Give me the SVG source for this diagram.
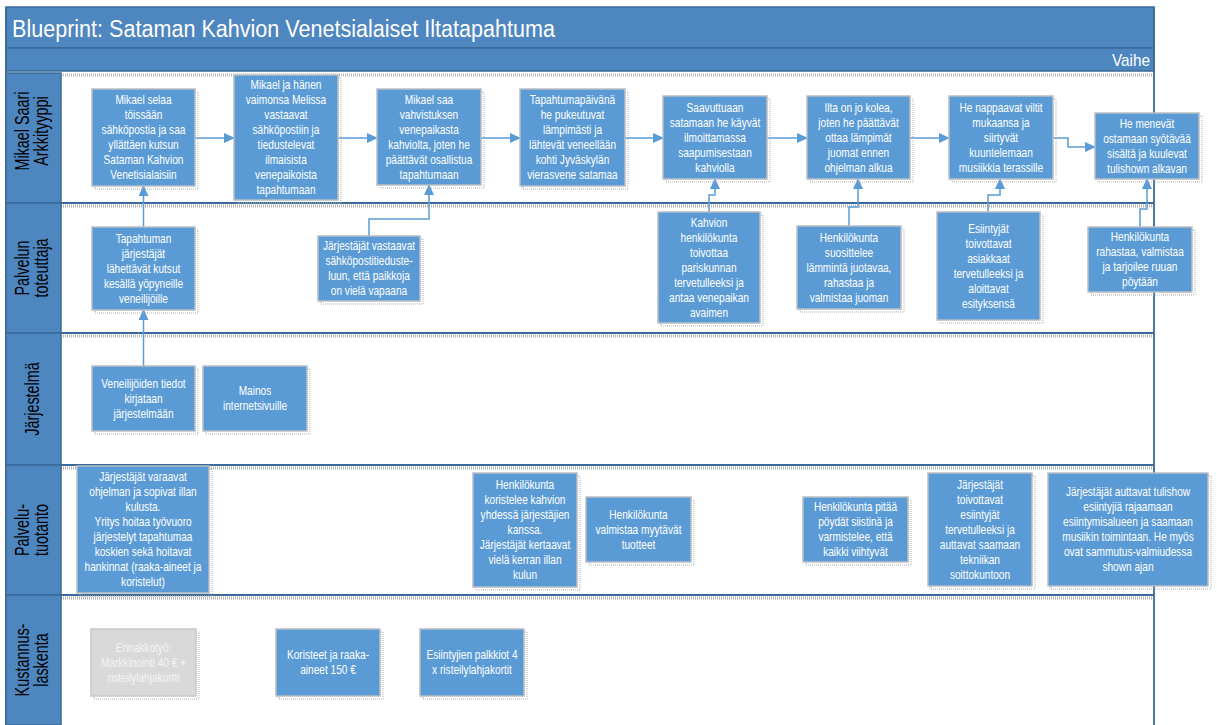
<svg xmlns="http://www.w3.org/2000/svg" width="1217" height="725" viewBox="0 0 1217 725">
<defs>
<style>
.bar{fill:#4e86bf;stroke:#3b6a9a;stroke-width:1.5}
.hdr{fill:#4e86bf;stroke:#3b6a9a;stroke-width:1.5}
.lane{fill:#ffffff;stroke:none}
.div{stroke:#3b6a9a;stroke-width:1.8;fill:none}
.dots{stroke:#b5b5b5;stroke-width:3;stroke-dasharray:1 1;fill:none}
.box{fill:#5b9bd5;stroke:#b9bec4;stroke-width:1.5}
.gbox{fill:#d9d9d9;stroke:#c8c8c8;stroke-width:1.5}
.shd{fill:none;stroke:#b0b0b0;stroke-width:1;stroke-dasharray:1 1}
.t{font-family:"Liberation Sans",Arial,sans-serif;font-size:12.5px;fill:#ffffff;text-anchor:middle}
.gt{font-family:"Liberation Sans",Arial,sans-serif;font-size:12.5px;fill:#f4f4f4;text-anchor:middle}
.ht{font-family:"Liberation Sans",Arial,sans-serif;font-size:20px;fill:#000000;text-anchor:middle}
.title{font-family:"Liberation Sans",Arial,sans-serif;font-size:23px;fill:#ffffff}
.vaihe{font-family:"Liberation Sans",Arial,sans-serif;font-size:17px;fill:#ffffff}
.c{fill:none;stroke:#5b9bd5;stroke-width:1.5}
</style>
<marker id="ah" markerWidth="11" markerHeight="10" refX="10" refY="5" orient="auto" markerUnits="userSpaceOnUse">
<path d="M0,0 L11,5 L0,10 z" fill="#5b9bd5"/>
</marker>
</defs>
<rect x="0" y="0" width="1217" height="725" fill="#ffffff"/>

<g id="frame">
<rect class="bar" x="6" y="7" width="1148" height="41"/>
<text class="title" x="12" y="37" textLength="543" lengthAdjust="spacingAndGlyphs">Blueprint: Sataman Kahvion Venetsialaiset Iltatapahtuma</text>
<rect class="bar" x="6" y="48" width="1148" height="23"/>
<text class="vaihe" x="1112" y="66" textLength="38" lengthAdjust="spacingAndGlyphs">Vaihe</text>
<rect class="lane" x="61" y="73" width="1093" height="652"/>
<line class="dots" x1="61" y1="75" x2="1154" y2="75"/>
<line class="dots" x1="61" y1="206" x2="1154" y2="206"/>
<line class="dots" x1="61" y1="336" x2="1154" y2="336"/>
<line class="dots" x1="61" y1="468" x2="1154" y2="468"/>
<line class="dots" x1="61" y1="598" x2="1154" y2="598"/>
<line class="div" x1="6" y1="203" x2="1154" y2="203"/>
<line class="div" x1="6" y1="333" x2="1154" y2="333"/>
<line class="div" x1="6" y1="465" x2="1154" y2="465"/>
<line class="div" x1="6" y1="595" x2="1154" y2="595"/>
<line class="div" x1="6" y1="7" x2="6" y2="725"/>
<line class="div" x1="1154" y1="7" x2="1154" y2="725"/>
</g>

<g id="lane-mikael">
<rect class="hdr" x="6" y="73" width="55" height="130"/>
<text class="ht" transform="translate(33,131) rotate(-90) scale(0.72,1)"><tspan x="0" y="-4">Mikael Saari</tspan><tspan x="0" y="15">Arkkityyppi</tspan></text>
</g>
<g id="lane-palvelun">
<rect class="hdr" x="6" y="203" width="55" height="130"/>
<text class="ht" transform="translate(33,268) rotate(-90) scale(0.72,1)"><tspan x="0" y="-4">Palvelun</tspan><tspan x="0" y="15">toteuttaja</tspan></text>
</g>
<g id="lane-jarjestelma">
<rect class="hdr" x="6" y="333" width="55" height="132"/>
<text class="ht" transform="translate(33,399) rotate(-90) scale(0.72,1)"><tspan x="0" y="6">Järjestelmä</tspan></text>
</g>
<g id="lane-tuotanto">
<rect class="hdr" x="6" y="465" width="55" height="130"/>
<text class="ht" transform="translate(33,530) rotate(-90) scale(0.72,1)"><tspan x="0" y="-4">Palvelu-</tspan><tspan x="0" y="15">tuotanto</tspan></text>
</g>
<g id="lane-kustannus">
<rect class="hdr" x="6" y="595" width="55" height="130"/>
<text class="ht" transform="translate(33,660) rotate(-90) scale(0.72,1)"><tspan x="0" y="-4">Kustannus-</tspan><tspan x="0" y="15">laskenta</tspan></text>
</g>

<g id="connectors">
<path class="c" d="M195,138 H234" marker-end="url(#ah)"/>
<path class="c" d="M338,138 H377" marker-end="url(#ah)"/>
<path class="c" d="M481,138 H520" marker-end="url(#ah)"/>
<path class="c" d="M625,138 H663" marker-end="url(#ah)"/>
<path class="c" d="M767,138 H807" marker-end="url(#ah)"/>
<path class="c" d="M910,138 H949" marker-end="url(#ah)"/>
<path class="c" d="M1053,138 H1068 V147 H1095" marker-end="url(#ah)"/>
<path class="c" d="M143.5,227 V186" marker-end="url(#ah)"/>
<path class="c" d="M143.5,366 V310" marker-end="url(#ah)"/>
<path class="c" d="M369,236 V219 H429 V185" marker-end="url(#ah)"/>
<path class="c" d="M709,212 V195 H715 V179" marker-end="url(#ah)"/>
<path class="c" d="M849,226 V207 H858 V179" marker-end="url(#ah)"/>
<path class="c" d="M988,212 V195 H1000 V179" marker-end="url(#ah)"/>
<path class="c" d="M1140,227 V209 H1147 V179" marker-end="url(#ah)"/>
</g>

<g id="A1"><rect class="shd" x="95" y="92" width="103" height="97"/><rect class="box" x="92" y="89" width="103" height="97"/>
<text class="t" transform="translate(143.5,0) scale(0.81,1)" y="104.5"><tspan x="0" dy="0">Mikael selaa</tspan><tspan x="0" dy="15">töissään</tspan><tspan x="0" dy="15">sähköpostia ja saa</tspan><tspan x="0" dy="15">yllättäen kutsun</tspan><tspan x="0" dy="15">Sataman Kahvion</tspan><tspan x="0" dy="15">Venetisialaisiin</tspan></text></g>

<g id="A2"><rect class="shd" x="237" y="78" width="104" height="125"/><rect class="box" x="234" y="75" width="104" height="125"/>
<text class="t" transform="translate(286,0) scale(0.81,1)" y="89.5"><tspan x="0" dy="0">Mikael ja hänen</tspan><tspan x="0" dy="15">vaimonsa Melissa</tspan><tspan x="0" dy="15">vastaavat</tspan><tspan x="0" dy="15">sähköpostiin ja</tspan><tspan x="0" dy="15">tiedustelevat</tspan><tspan x="0" dy="15">ilmaisista</tspan><tspan x="0" dy="15">venepaikoista</tspan><tspan x="0" dy="15">tapahtumaan</tspan></text></g>

<g id="A3"><rect class="shd" x="380" y="92" width="104" height="96"/><rect class="box" x="377" y="89" width="104" height="96"/>
<text class="t" transform="translate(429,0) scale(0.81,1)" y="104"><tspan x="0" dy="0">Mikael saa</tspan><tspan x="0" dy="15">vahvistuksen</tspan><tspan x="0" dy="15">venepaikasta</tspan><tspan x="0" dy="15">kahviolta, joten he</tspan><tspan x="0" dy="15">päättävät osallistua</tspan><tspan x="0" dy="15">tapahtumaan</tspan></text></g>

<g id="A4"><rect class="shd" x="523" y="92" width="105" height="97"/><rect class="box" x="520" y="89" width="105" height="97"/>
<text class="t" transform="translate(572.5,0) scale(0.81,1)" y="104.5"><tspan x="0" dy="0">Tapahtumapäivänä</tspan><tspan x="0" dy="15">he pukeutuvat</tspan><tspan x="0" dy="15">lämpimästi ja</tspan><tspan x="0" dy="15">lähtevät veneellään</tspan><tspan x="0" dy="15">kohti Jyväskylän</tspan><tspan x="0" dy="15">vierasvene satamaa</tspan></text></g>

<g id="A5"><rect class="shd" x="666" y="99" width="104" height="83"/><rect class="box" x="663" y="96" width="104" height="83"/>
<text class="t" transform="translate(715,0) scale(0.81,1)" y="112"><tspan x="0" dy="0">Saavuttuaan</tspan><tspan x="0" dy="15">satamaan he käyvät</tspan><tspan x="0" dy="15">ilmoittamassa</tspan><tspan x="0" dy="15">saapumisestaan</tspan><tspan x="0" dy="15">kahviolla</tspan></text></g>

<g id="A6"><rect class="shd" x="810" y="99" width="103" height="83"/><rect class="box" x="807" y="96" width="103" height="83"/>
<text class="t" transform="translate(858.5,0) scale(0.81,1)" y="112"><tspan x="0" dy="0">Ilta on jo kolea,</tspan><tspan x="0" dy="15">joten he päättävät</tspan><tspan x="0" dy="15">ottaa lämpimät</tspan><tspan x="0" dy="15">juomat ennen</tspan><tspan x="0" dy="15">ohjelman alkua</tspan></text></g>

<g id="A7"><rect class="shd" x="952" y="99" width="104" height="83"/><rect class="box" x="949" y="96" width="104" height="83"/>
<text class="t" transform="translate(1001,0) scale(0.81,1)" y="112"><tspan x="0" dy="0">He nappaavat viltit</tspan><tspan x="0" dy="15">mukaansa ja</tspan><tspan x="0" dy="15">siirtyvät</tspan><tspan x="0" dy="15">kuuntelemaan</tspan><tspan x="0" dy="15">musiikkia terassille</tspan></text></g>

<g id="A8"><rect class="shd" x="1098" y="116" width="104" height="66"/><rect class="box" x="1095" y="113" width="104" height="66"/>
<text class="t" transform="translate(1147,0) scale(0.81,1)" y="128"><tspan x="0" dy="0">He menevät</tspan><tspan x="0" dy="15">ostamaan syötävää</tspan><tspan x="0" dy="15">sisältä ja kuulevat</tspan><tspan x="0" dy="15">tulishown alkavan</tspan></text></g>

<g id="B1"><rect class="shd" x="95" y="230" width="103" height="83"/><rect class="box" x="92" y="227" width="103" height="83"/>
<text class="t" transform="translate(143.5,0) scale(0.81,1)" y="243"><tspan x="0" dy="0">Tapahtuman</tspan><tspan x="0" dy="15">järjestäjät</tspan><tspan x="0" dy="15">lähettävät kutsut</tspan><tspan x="0" dy="15">kesällä yöpyneille</tspan><tspan x="0" dy="15">veneilijöille</tspan></text></g>

<g id="B2"><rect class="shd" x="321" y="239" width="102" height="65"/><rect class="box" x="318" y="236" width="102" height="65"/>
<text class="t" transform="translate(369,0) scale(0.81,1)" y="250.5"><tspan x="0" dy="0">Järjestäjät vastaavat</tspan><tspan x="0" dy="15">sähköpostitieduste-</tspan><tspan x="0" dy="15">luun, että paikkoja</tspan><tspan x="0" dy="15">on vielä vapaana</tspan></text></g>

<g id="B3"><rect class="shd" x="661" y="215" width="102" height="111"/><rect class="box" x="658" y="212" width="102" height="111"/>
<text class="t" transform="translate(709,0) scale(0.81,1)" y="227"><tspan x="0" dy="0">Kahvion</tspan><tspan x="0" dy="15">henkilökunta</tspan><tspan x="0" dy="15">toivottaa</tspan><tspan x="0" dy="15">pariskunnan</tspan><tspan x="0" dy="15">tervetulleeksi ja</tspan><tspan x="0" dy="15">antaa venepaikan</tspan><tspan x="0" dy="15">avaimen</tspan></text></g>

<g id="B4"><rect class="shd" x="800" y="229" width="104" height="83"/><rect class="box" x="797" y="226" width="104" height="83"/>
<text class="t" transform="translate(849,0) scale(0.81,1)" y="242"><tspan x="0" dy="0">Henkilökunta</tspan><tspan x="0" dy="15">suosittelee</tspan><tspan x="0" dy="15">lämmintä juotavaa,</tspan><tspan x="0" dy="15">rahastaa ja</tspan><tspan x="0" dy="15">valmistaa juoman</tspan></text></g>

<g id="B5"><rect class="shd" x="940" y="215" width="103" height="108"/><rect class="box" x="937" y="212" width="103" height="108"/>
<text class="t" transform="translate(988.5,0) scale(0.81,1)" y="233"><tspan x="0" dy="0">Esiintyjät</tspan><tspan x="0" dy="15">toivottavat</tspan><tspan x="0" dy="15">asiakkaat</tspan><tspan x="0" dy="15">tervetulleeksi ja</tspan><tspan x="0" dy="15">aloittavat</tspan><tspan x="0" dy="15">esityksensä</tspan></text></g>

<g id="B6"><rect class="shd" x="1091" y="230" width="104" height="65"/><rect class="box" x="1088" y="227" width="104" height="65"/>
<text class="t" transform="translate(1140,0) scale(0.81,1)" y="241.5"><tspan x="0" dy="0">Henkilökunta</tspan><tspan x="0" dy="15">rahastaa, valmistaa</tspan><tspan x="0" dy="15">ja tarjoilee ruuan</tspan><tspan x="0" dy="15">pöytään</tspan></text></g>

<g id="C1"><rect class="shd" x="95" y="369" width="103" height="65"/><rect class="box" x="92" y="366" width="103" height="65"/>
<text class="t" transform="translate(143.5,0) scale(0.81,1)" y="388"><tspan x="0" dy="0">Veneilijöiden tiedot</tspan><tspan x="0" dy="15">kirjataan</tspan><tspan x="0" dy="15">järjestelmään</tspan></text></g>

<g id="C2"><rect class="shd" x="206" y="369" width="104" height="65"/><rect class="box" x="203" y="366" width="104" height="65"/>
<text class="t" transform="translate(255,0) scale(0.81,1)" y="395.5"><tspan x="0" dy="0">Mainos</tspan><tspan x="0" dy="15">internetsivuille</tspan></text></g>

<g id="D1"><rect class="shd" x="80" y="469" width="132" height="127"/><rect class="box" x="77" y="466" width="132" height="127"/>
<text class="t" transform="translate(143,0) scale(0.81,1)" y="481.5"><tspan x="0" dy="0">Järjestäjät varaavat</tspan><tspan x="0" dy="15">ohjelman ja sopivat illan</tspan><tspan x="0" dy="15">kulusta.</tspan><tspan x="0" dy="15">Yritys hoitaa työvuoro</tspan><tspan x="0" dy="15">järjestelyt tapahtumaa</tspan><tspan x="0" dy="15">koskien sekä hoitavat</tspan><tspan x="0" dy="15">hankinnat (raaka-aineet ja</tspan><tspan x="0" dy="15">koristelut)</tspan></text></g>

<g id="D2"><rect class="shd" x="476" y="476" width="104" height="114"/><rect class="box" x="473" y="473" width="104" height="114"/>
<text class="t" transform="translate(525,0) scale(0.81,1)" y="489.5"><tspan x="0" dy="0">Henkilökunta</tspan><tspan x="0" dy="15">koristelee kahvion</tspan><tspan x="0" dy="15">yhdessä järjestäjien</tspan><tspan x="0" dy="15">kanssa.</tspan><tspan x="0" dy="15">Järjestäjät kertaavat</tspan><tspan x="0" dy="15">vielä kerran illan</tspan><tspan x="0" dy="15">kulun</tspan></text></g>

<g id="D3"><rect class="shd" x="589" y="500" width="105" height="65"/><rect class="box" x="586" y="497" width="105" height="65"/>
<text class="t" transform="translate(638.5,0) scale(0.81,1)" y="519"><tspan x="0" dy="0">Henkilökunta</tspan><tspan x="0" dy="15">valmistaa myytävät</tspan><tspan x="0" dy="15">tuotteet</tspan></text></g>

<g id="D4"><rect class="shd" x="806" y="500" width="105" height="65"/><rect class="box" x="803" y="497" width="105" height="65"/>
<text class="t" transform="translate(855.5,0) scale(0.81,1)" y="511.5"><tspan x="0" dy="0">Henkilökunta pitää</tspan><tspan x="0" dy="15">pöydät siistinä ja</tspan><tspan x="0" dy="15">varmistelee, että</tspan><tspan x="0" dy="15">kaikki viihtyvät</tspan></text></g>

<g id="D5"><rect class="shd" x="931" y="476" width="104" height="113"/><rect class="box" x="928" y="473" width="104" height="113"/>
<text class="t" transform="translate(980,0) scale(0.81,1)" y="489"><tspan x="0" dy="0">Järjestäjät</tspan><tspan x="0" dy="15">toivottavat</tspan><tspan x="0" dy="15">esiintyjät</tspan><tspan x="0" dy="15">tervetulleeksi ja</tspan><tspan x="0" dy="15">auttavat saamaan</tspan><tspan x="0" dy="15">tekniikan</tspan><tspan x="0" dy="15">soittokuntoon</tspan></text></g>

<g id="D6"><rect class="shd" x="1051" y="476" width="160" height="113"/><rect class="box" x="1048" y="473" width="160" height="113"/>
<text class="t" transform="translate(1128,0) scale(0.81,1)" y="496.5"><tspan x="0" dy="0">Järjestäjät auttavat tulishow</tspan><tspan x="0" dy="15">esiintyjiä rajaamaan</tspan><tspan x="0" dy="15">esiintymisalueen ja saamaan</tspan><tspan x="0" dy="15">musiikin toimintaan. He myös</tspan><tspan x="0" dy="15">ovat sammutus-valmiudessa</tspan><tspan x="0" dy="15">shown ajan</tspan></text></g>

<g id="E1"><rect class="shd" x="94" y="632" width="105" height="67"/><rect class="gbox" x="91" y="629" width="105" height="67"/>
<text class="gt" transform="translate(143.5,0) scale(0.81,1)" y="652"><tspan x="0" dy="0">Ennakkotyö:</tspan><tspan x="0" dy="15">Markkinointi 40 € +</tspan><tspan x="0" dy="15">risteilylahjakortti</tspan></text></g>

<g id="E2"><rect class="shd" x="279" y="632" width="104" height="67"/><rect class="box" x="276" y="629" width="104" height="67"/>
<text class="t" transform="translate(328,0) scale(0.81,1)" y="659.5"><tspan x="0" dy="0">Koristeet ja raaka-</tspan><tspan x="0" dy="15">aineet 150 €</tspan></text></g>

<g id="E3"><rect class="shd" x="423" y="632" width="104" height="67"/><rect class="box" x="420" y="629" width="104" height="67"/>
<text class="t" transform="translate(472,0) scale(0.81,1)" y="659.5"><tspan x="0" dy="0">Esiintyjien palkkiot 4</tspan><tspan x="0" dy="15">x risteilylahjakortit</tspan></text></g>
</svg>
